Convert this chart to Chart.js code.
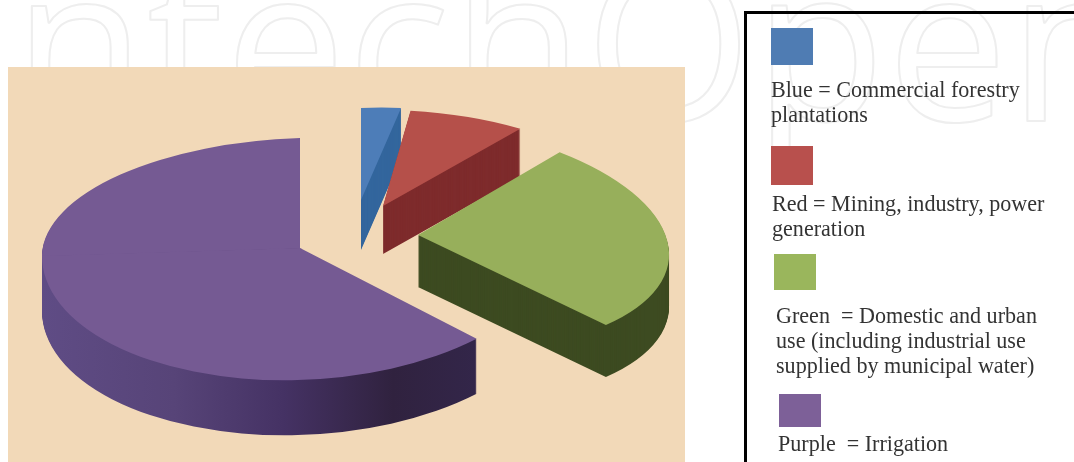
<!DOCTYPE html>
<html><head><meta charset="utf-8">
<style>
html,body{margin:0;padding:0;background:#fff;overflow:hidden;width:1074px;height:462px}
#wm{position:absolute;left:0;top:0}
#panel{position:absolute;left:8px;top:67px;width:677px;height:395px;background:#f2d9b8}
#c{position:absolute;left:0;top:0}
#box{position:absolute;left:744px;top:11px;width:340px;height:470px;border:3px solid #000;box-sizing:border-box}
.sw{position:absolute}
.tx{position:absolute;font:22.1px/25px "Liberation Serif",serif;color:#333;white-space:pre}
</style></head><body>
<svg id="wm" width="1074" height="462"><text x="-48" y="121" font-family="Open Sans" font-size="215" letter-spacing="1.5" fill="none" stroke="#eeeeee" stroke-width="2" stroke-linejoin="round">IntechOpen</text></svg>
<div id="panel"></div>
<canvas id="c" width="1074" height="462"></canvas>
<div id="box"></div>
<script src="https://cdn.jsdelivr.net/npm/chart.js@4"></script>
<script>
const categories=['Commercial forestry plantations','Mining, industry, power generation','Domestic and urban use','Irrigation'];
const shares=[3,8,27,62];
const topColors=['#4d7db8','#b5504a','#97af5b','#755a93'];
const legendLines=[['Blue = Commercial forestry','plantations'],['Red = Mining, industry, power','generation'],['Green  = Domestic and urban','use (including industrial use','supplied by municipal water)'],['Purple  = Irrigation']];
const legendSwatches=['#4f7cb3','#b8504d','#9ab65c','#7d6098'];

// how each slice is projected on the page (3-D look), not chart values
const view=[
 {cx:361,cy:200,a:214,b:-9,c:0,d:92,depth:50,wall:'#33669d'},
 {cx:383,cy:206,a:236,b:-5,c:17,d:96,depth:48,wall:'#7e2b2c'},
 {cx:418,cy:235,a:250,b:9,c:23,d:115,depth:52,wall:'#3d4b21'},
 {cx:300,cy:248,a:258,b:-8,c:0,d:110,dDown:132,depth:55,stops:[[0,'#5f4c85'],[.3,'#574478'],[.55,'#453264'],[.8,'#30223f'],[1,'#33264a']]}
];
const legendPos=[
 {sx:771,sy:28,sw:42,sh:37,tx:771,ty:77},
 {sx:771,sy:146,sw:42,sh:39,tx:772,ty:191},
 {sx:774,sy:254,sw:42,sh:36,tx:776,ty:303},
 {sx:779,sy:394,sw:42,sh:33,tx:778,ty:431}
];

legendLines.forEach((lines,i)=>{
  const p=legendPos[i];
  const s=document.createElement('div');s.className='sw';
  s.style.cssText=`left:${p.sx}px;top:${p.sy}px;width:${p.sw}px;height:${p.sh}px;background:${legendSwatches[i]}`;
  document.body.appendChild(s);
  const t=document.createElement('div');t.className='tx';
  t.style.left=p.tx+'px';t.style.top=p.ty+'px';
  t.textContent=lines.join('\n');
  document.body.appendChild(t);
});

function place(ctx,el,v,d,dy){
  const R=el.outerRadius;
  ctx.transform(v.a/R,v.b/R,v.c/R,d/R,v.cx,v.cy+dy);
  ctx.translate(-el.x,-el.y);
}
function drawPart(ctx,el,v,d,dy,clipTop,clipH){
  const R=el.outerRadius;
  ctx.save();
  place(ctx,el,v,d,dy);
  if(clipH){ctx.beginPath();ctx.rect(el.x-R-2,el.y+clipTop,2*R+4,clipH);ctx.clip();}
  el.draw(ctx);
  ctx.restore();
}
function drawSlice(ctx,el,v,dy){
  const R=el.outerRadius;
  if(v.dDown){
    drawPart(ctx,el,v,v.d,dy,-R-2,R+3);
    drawPart(ctx,el,v,v.dDown,dy,0,R+2);
  }else{
    drawPart(ctx,el,v,v.d,dy);
  }
}
const pie3d={id:'pie3d',beforeDatasetsDraw(chart){
  const ctx=chart.ctx,meta=chart.getDatasetMeta(0);
  meta.data.forEach((el,i)=>{
    const v=view[i],base=el.options;
    let fill=v.wall;
    if(v.stops){
      const R=el.outerRadius;
      fill=ctx.createLinearGradient(el.x-R,0,el.x+R*0.7,0);
      v.stops.forEach(s=>fill.addColorStop(s[0],s[1]));
    }
    el.options=Object.assign({},base,{backgroundColor:fill,borderWidth:0});
    for(let k=v.depth;k>=1;k--)drawSlice(ctx,el,v,k);
    el.options=Object.assign({},base,{borderWidth:0});
    drawSlice(ctx,el,v,0);
    el.options=base;
  });
  return false;
}};
new Chart(document.getElementById('c'),{
  type:'pie',
  data:{labels:categories,datasets:[{data:shares,backgroundColor:topColors,borderWidth:0}]},
  options:{responsive:false,animation:false,events:[],plugins:{legend:{display:false},tooltip:{enabled:false}}},
  plugins:[pie3d]
});
</script>
</body></html>
